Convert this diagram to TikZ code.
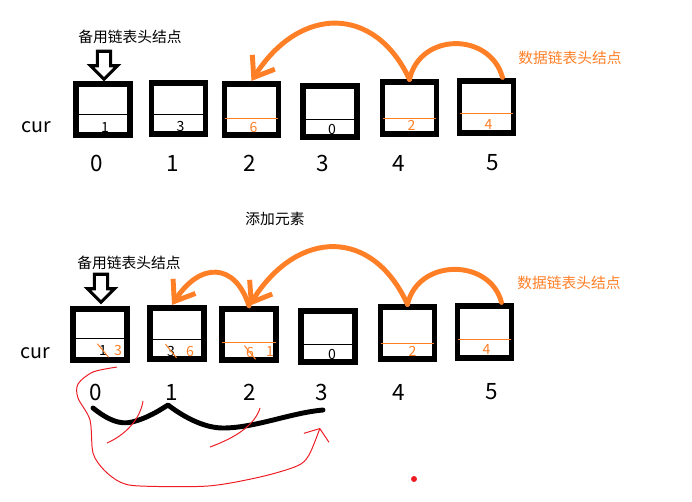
\documentclass[tikz,border=0pt]{standalone}
\usepackage{fontspec}
\setmainfont{Noto Sans CJK SC}
\usepackage{xcolor}
\usepackage{tikz}
\usetikzlibrary{shapes,positioning,calc,arrows.meta}
\definecolor{paintorange}{RGB}{255,127,39}
\definecolor{paintred}{RGB}{237,28,36}

\begin{document}
\begin{tikzpicture}[x=0.025cm, y=-0.025cm,
    cell/.style={draw, line width=4.2pt, minimum width=1.35cm, minimum height=1.28cm, inner sep=0pt},
    val/.style={font=\fontsize{10}{11}\selectfont, inner sep=1pt},
    idx/.style={font=\fontsize{16}{18}\selectfont},
    hint/.style={font=\fontsize{10.5}{12}\selectfont},
    curlbl/.style={font=\fontsize{14}{16}\selectfont},
    downmark/.style={draw, line width=2.2pt, shape=single arrow, shape border rotate=270, minimum height=0.7cm, single arrow head extend=0.175cm, inner sep=0.125cm},
    link/.style={paintorange, line width=3.5pt, line cap=round},
    linktip/.style={-{Straight Barb[length=13pt,width=19pt]}},
    cut/.style={paintred, line width=0.7pt}]
    \useasboundingbox (0,0) rectangle (692,501);

    % Before: nodes
    \node[hint] (spare1) at (130,37) {备用链表头结点};
    \node[downmark] (mark1) at (104,62) {};
    \node[hint, text=paintorange] (head1) at (570,58) {数据链表头结点};
    \node[curlbl] (cur1) at (36,127) {cur};
    \foreach \n/\x/\y in {0/103/109.5, 1/178.5/108.5, 2/251.5/109.5, 3/330/111.5, 4/409.5/108, 5/486.5/107}
        \node[cell] (c\n) at (\x,\y) {};
    \foreach \n/\c/\o in {0/black/4.5, 1/black/5.5, 2/paintorange/8.5, 3/black/7.5, 4/paintorange/10, 5/paintorange/6}
        \draw[\c, line width=0.6pt] ($(c\n.west)+(3,\o)$) -- ($(c\n.east)+(-3,\o)$);
    \foreach \n/\v/\c in {0/1/black, 1/3/black, 2/6/paintorange, 3/0/black, 4/2/paintorange, 5/4/paintorange}
        \node[val, text=\c] (v\n) at ($(c\n)+(2,17.5)$) {\v};
    \foreach \n/\x in {0/97, 1/173, 2/250, 3/323, 4/399, 5/493}
        \node[idx] (i\n) at (\x,163) {\n};

    % Before: connections
    \draw[link] ($(c5.north)+(16,-1)$) .. controls (490,32) and (420,32) .. (c4.north);
    \draw[link, linktip] (c4.north) .. controls (375,5) and (300,5) .. (c2.north);

    \node[hint] (add) at (275,219) {添加元素};

    % After: nodes
    \node[hint] (spare2) at (129,263) {备用链表头结点};
    \node[downmark] (mark2) at (101,285) {};
    \node[hint, text=paintorange] (head2) at (569,283) {数据链表头结点};
    \node[curlbl] (cur2) at (35,353) {cur};
    \foreach \n/\x/\y in {0/100/334.5, 1/177/333.5, 2/249/334.5, 3/328/336.5, 4/407.5/333, 5/484.5/332}
        \node[cell] (d\n) at (\x,\y) {};
    \foreach \n/\c/\o in {0/black/3.5, 1/black/5.5, 2/paintorange/7.5, 3/black/7.5, 4/paintorange/10, 5/paintorange/7}
        \draw[\c, line width=0.6pt] ($(d\n.west)+(3,\o)$) -- ($(d\n.east)+(-3,\o)$);
    \node[val] (w0) at ($(d0)+(3,16)$) {1};
    \node[val, text=paintorange] (u0) at ($(d0)+(18,16)$) {3};
    \node[val] (w1) at ($(d1)+(-6,17.5)$) {3};
    \node[val, text=paintorange] (u1) at ($(d1)+(13,17.5)$) {6};
    \node[val, text=paintorange] (w2) at ($(d2)+(1,18)$) {6};
    \node[val, text=paintorange] (u2) at ($(d2)+(21,17)$) {1};
    \node[val] (u3) at ($(d3)+(4,17.5)$) {0};
    \node[val, text=paintorange] (u4) at ($(d4)+(5,18)$) {2};
    \node[val, text=paintorange] (u5) at ($(d5)+(2,17.5)$) {4};
    \foreach \n in {0,1,2}
        \draw[paintorange, line width=0.7pt] (w\n.north west) -- (w\n.south east);
    \foreach \n/\x in {0/96, 1/172, 2/250, 3/322, 4/399, 5/492}
        \node[idx] (j\n) at (\x,392) {\n};

    % After: connections
    \draw[link] ($(d5.north)+(17,-1)$) .. controls (490,258) and (418,258) .. (d4.north);
    \draw[link, linktip] (d4.north) .. controls (373,228) and (298,228) .. (d2.north);
    \draw[link, linktip] (d2.north) .. controls (235,262) and (200,262) .. ($(d1.north)+(-5,0)$);

    % Brace and red marks
    \draw[line width=3.5pt, line cap=round, line join=round] (93,408) .. controls (108,420) and (120,425) .. (132,422)
        .. controls (148,418) and (160,410) .. (168,405) .. controls (185,418) and (205,428) .. (223,428)
        .. controls (255,428) and (290,413) .. (323,410);
    \draw[cut] (143,401) .. controls (140,420) and (125,435) .. (107,443);
    \draw[cut] (260,408) .. controls (255,425) and (235,438) .. (210,447);
    \draw[cut, -{Straight Barb[length=7pt,width=19pt]}] plot[smooth] coordinates {($(d0.south)+(17,4)$) (93,372) (78,384) (78,398) (90,420) (93,453) (104,470) (120,482) (140,486) (208,486) (260,477) (297,466) (309,455) (320,428)};
    \fill[paintred] (414,479) circle (3);
\end{tikzpicture}
\end{document}
